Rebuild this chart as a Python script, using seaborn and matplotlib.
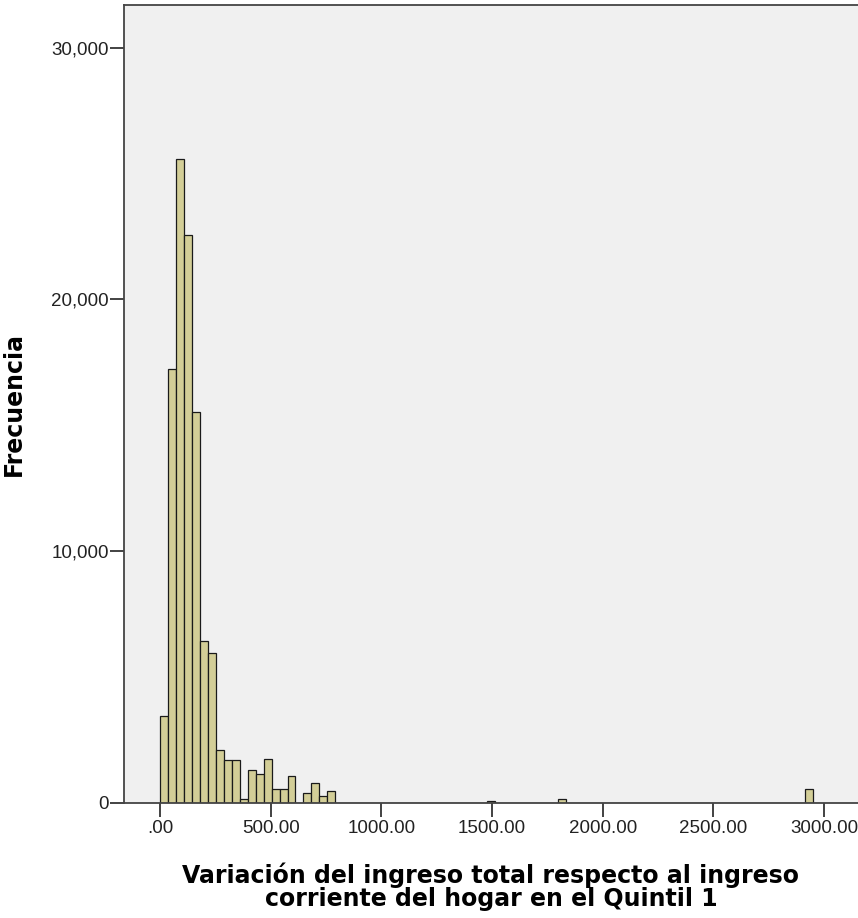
import numpy as np
import pandas as pd
import matplotlib.pyplot as plt
import seaborn as sns
from matplotlib.ticker import FuncFormatter

# histogram: bin width 36, starting at 0
bin_width = 36
first_counts = [3450, 17250, 25580, 22580, 15520, 6450, 5970, 2110, 1710, 1700,
                160, 1300, 1150, 1740, 540, 570, 1070, 0, 380, 780, 290, 490]
extra_bins = [41, 50, 81]
extra_counts = [60, 145, 570]

n_bins = 83
counts = np.zeros(n_bins)
counts[:len(first_counts)] = first_counts
for b, c in zip(extra_bins, extra_counts):
    counts[b] = c
edges = np.arange(n_bins + 1) * bin_width
centers = edges[:-1] + bin_width / 2
df = pd.DataFrame({"centro": centers, "frec": counts})

sns.set_style("ticks", {"axes.facecolor": "#F0F0F0"})
plt.rcParams['font.family'] = ['Liberation Sans', 'DejaVu Sans']

fig = plt.figure(figsize=(8.58, 9.18), dpi=100)
ax = fig.add_axes([0.1445, 0.1253, 0.8555, 0.8693])

sns.histplot(data=df, x="centro", weights="frec", bins=list(edges), ax=ax,
             color="#D3CE97", alpha=1, edgecolor="#1a1a1a", linewidth=0.9)

ax.set_xlim(-163, 3154)
ax.set_ylim(0, 31700)
ax.set_xticks(np.arange(0, 3001, 500))
ax.set_yticks([0, 10000, 20000, 30000])
ax.xaxis.set_major_formatter(FuncFormatter(lambda v, p: ".00" if v == 0 else f"{v:.2f}"))
ax.yaxis.set_major_formatter(FuncFormatter(lambda v, p: f"{int(v):,}"))
ax.tick_params(axis="x", length=10, width=1.2, labelsize=13.5, colors="#222222", pad=2)
ax.tick_params(axis="y", length=10, width=1.2, labelsize=13.5, colors="#222222", pad=1)

for s in ["left", "bottom", "top"]:
    ax.spines[s].set_color("#444444")
    ax.spines[s].set_linewidth(1.3)
ax.spines["right"].set_visible(False)

ax.set_xlabel("Variación del ingreso total respecto al ingreso\ncorriente del hogar en el Quintil 1",
              fontsize=17, fontweight="bold", family="DejaVu Sans", linespacing=0.95,
              color="black")
ax.xaxis.set_label_coords(0.5, -0.074)
ax.set_ylabel("Frecuencia", fontsize=17, fontweight="bold", family="DejaVu Sans",
              color="black")
ax.yaxis.set_label_coords(-0.133, 0.5)

fig.savefig("out.png", dpi=100, facecolor="white")
